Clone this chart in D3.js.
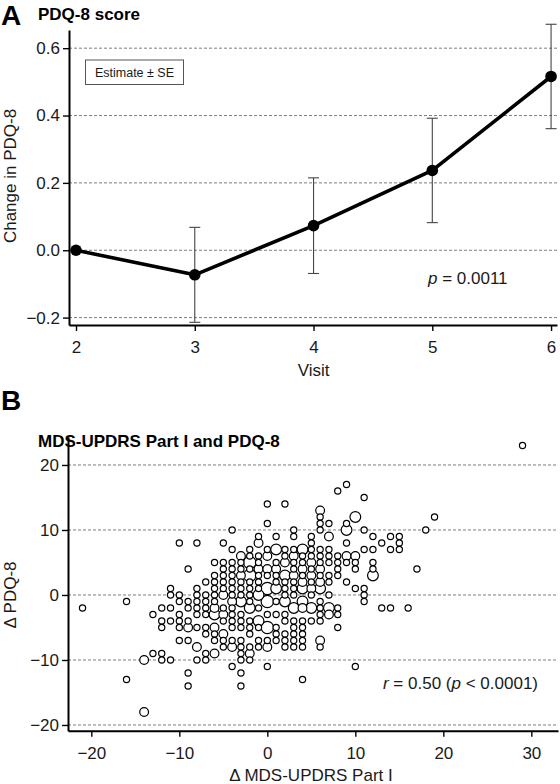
<!DOCTYPE html>
<html><head><meta charset="utf-8">
<script src="https://cdn.jsdelivr.net/npm/d3@7"></script>
<style>
body{margin:0;background:#fff}
svg{display:block}
text{font-family:"Liberation Sans",Arial,Helvetica,sans-serif}
</style>
</head><body>
<svg id="chart" width="560" height="784"></svg>
<script>
// ---------- Panel A data ----------
const visits = [2, 3, 4, 5, 6];
const estimate = [0, -0.073, 0.073, 0.237, 0.516];
const se = [0, 0.141, 0.142, 0.155, 0.155];
const visitTicks = [2, 3, 4, 5, 6];
const changeTicks = [-0.2, 0, 0.2, 0.4, 0.6];

// ---------- Panel B data: [Δ MDS-UPDRS Part I, Δ PDQ-8, count] ----------
const updrsTicks = [-20, -10, 0, 10, 20, 30];
const pdqTicks = [-20, -10, 0, 10, 20];
const bubbles = [
[-21,-2,1],
[-16,-1,1],[-16,-13,1],
[-14,-10,2],[-14,-18,2],
[-13,-3,1],[-13,-9,1],
[-12,-2,1],[-12,-4,1],[-12,-5,1],[-12,-9,1],[-12,-10,1],
[-11,1,1],[-11,0,1],[-11,-2,1],[-11,-4,1],[-11,-10,1],
[-10,8,1],[-10,0,1],[-10,-1,1],[-10,-3,1],[-10,-4,1],[-10,-5,1],[-10,-7,1],
[-9,4,1],[-9,-1,1],[-9,-2,1],[-9,-4,1],[-9,-5,2],[-9,-7,1],[-9,-12,1],[-9,-14,1],
[-8,8,1],[-8,1,1],[-8,0,1],[-8,-1,1],[-8,-2,1],[-8,-3,1],[-8,-5,1],[-8,-8,2],[-8,-10,1],
[-7,2,1],[-7,0,1],[-7,-1,1],[-7,-2,1],[-7,-3,1],[-7,-5,1],[-7,-6,1],[-7,-9,1],[-7,-10,1],
[-6,5,1],[-6,3,1],[-6,2,1],[-6,1,1],[-6,0,1],[-6,-1,1],[-6,-2,2],[-6,-3,3],[-6,-5,2],[-6,-6,1],[-6,-7,1],[-6,-9,2],
[-5,8,1],[-5,5,1],[-5,4,1],[-5,3,1],[-5,2,1],[-5,1,1],[-5,0,2],[-5,-2,1],[-5,-3,2],[-5,-4,1],[-5,-6,2],[-5,-7,1],[-5,-8,1],
[-4,10,1],[-4,7,1],[-4,5,1],[-4,4,1],[-4,3,1],[-4,2,1],[-4,1,1],[-4,0,1],[-4,-1,2],[-4,-2,1],[-4,-3,1],[-4,-4,1],[-4,-5,1],[-4,-7,1],[-4,-8,2],[-4,-11,1],
[-3,6,2],[-3,5,1],[-3,4,1],[-3,3,2],[-3,2,1],[-3,1,1],[-3,0,1],[-3,-1,3],[-3,-3,1],[-3,-4,1],[-3,-5,1],[-3,-7,1],[-3,-8,1],[-3,-9,1],[-3,-10,1],[-3,-12,1],[-3,-14,1],
[-2,7,1],[-2,6,1],[-2,5,4],[-2,4,1],[-2,3,4],[-2,2,1],[-2,1,1],[-2,0,1],[-2,-1,1],[-2,-2,3],[-2,-4,1],[-2,-5,1],[-2,-6,1],[-2,-8,1],[-2,-9,2],[-2,-10,1],
[-1,9,1],[-1,8,2],[-1,6,1],[-1,5,1],[-1,4,2],[-1,3,1],[-1,2,1],[-1,1,1],[-1,0,3],[-1,-2,1],[-1,-4,3],[-1,-5,1],[-1,-7,1],[-1,-8,1],
[0,14,1],[0,11,1],[0,7,1],[0,6,2],[0,4,2],[0,3,1],[0,1,4],[0,-1,4],[0,-3,1],[0,-5,4],[0,-7,1],[0,-8,2],[0,-11,1],
[1,9,1],[1,7,3],[1,5,1],[1,4,2],[1,3,1],[1,2,1],[1,1,3],[1,-1,1],[1,-3,1],[1,-5,1],[1,-6,1],[1,-7,1],
[2,14,1],[2,7,1],[2,6,1],[2,5,2],[2,3,3],[2,2,1],[2,1,1],[2,0,1],[2,-1,3],[2,-3,1],[2,-4,1],[2,-6,1],[2,-7,1],[2,-8,1],
[3,10,1],[3,9,1],[3,7,1],[3,6,2],[3,5,1],[3,4,1],[3,3,2],[3,2,1],[3,1,1],[3,0,1],[3,-2,3],[3,-4,1],[3,-5,1],[3,-6,1],[3,-7,1],[3,-8,1],
[4,7,3],[4,6,1],[4,5,1],[4,4,2],[4,3,1],[4,2,2],[4,1,3],[4,-1,3],[4,-2,2],[4,-4,1],[4,-5,1],[4,-6,1],[4,-7,1],[4,-8,1],[4,-13,1],
[5,9,1],[5,8,1],[5,7,1],[5,6,1],[5,5,2],[5,4,1],[5,3,2],[5,2,1],[5,1,2],[5,0,1],[5,-2,3],[5,-4,1],
[6,13,2],[6,12,1],[6,11,1],[6,10,1],[6,7,1],[6,6,1],[6,5,1],[6,4,2],[6,3,1],[6,2,2],[6,1,3],[6,-1,1],[6,-2,1],[6,-3,1],[6,-4,1],[6,-7,2],[6,-8,1],
[7,11,1],[7,9,2],[7,7,1],[7,6,1],[7,5,1],[7,3,1],[7,2,1],[7,0,1],[7,-2,3],[7,-3,2],
[8,16,1],[8,6,1],[8,5,1],[8,4,1],[8,3,1],[8,-2,1],[8,-3,1],[8,-5,1],
[9,17,1],[9,11,1],[9,10,3],[9,8,1],[9,6,2],[9,5,1],[9,2,1],
[10,12,3],[10,6,2],[10,5,1],[10,4,1],[10,1,1],[10,-11,1],
[11,15,1],[11,10,1],[11,7,1],[11,1,1],[11,0,1],[11,-1,1],
[12,9,1],[12,7,1],[12,5,1],[12,4,1],[12,3,3],
[13,8,1],[13,-2,1],
[14,9,1],[14,7,1],[14,-2,1],
[15,9,1],[15,8,1],[15,7,1],
[16,-2,1],
[17,4,1],
[18,10,1],
[19,12,1],
[29,23,1]
];

const svg = d3.select("#chart");
const FS = 17;
const gridColor = "#6e6e6e";

function styleAxis(g){
  g.select(".domain").attr("stroke","#000").attr("stroke-width",2);
  g.selectAll(".tick line").attr("stroke","#000").attr("stroke-width",1.4);
  g.selectAll(".tick text").attr("font-size",FS).attr("fill","#1a1a1a")
    .attr("font-family",'"Liberation Sans",Arial,sans-serif');
}

// ================= Panel A =================
const xA = d3.scaleLinear().domain([1.941, 6.05]).range([69, 557]);
const yA = d3.scaleLinear().domain([-0.222, 0.654]).range([325, 30]);

svg.append("text").attr("x",1).attr("y",25).attr("font-size",28).attr("font-weight","bold").text("A");
svg.append("text").attr("x",38).attr("y",20).attr("font-size",FS).attr("font-weight","bold").text("PDQ-8 score");

svg.append("g").selectAll("line").data(changeTicks).join("line")
  .attr("x1",69).attr("x2",557)
  .attr("y1",d=>yA(d)).attr("y2",d=>yA(d))
  .attr("stroke",gridColor).attr("stroke-width",0.9).attr("stroke-dasharray","3,2");

const axA_y = svg.append("g").attr("transform","translate(69,0)")
  .call(d3.axisLeft(yA).tickValues(changeTicks).tickFormat(d3.format(".1f")).tickSize(6).tickSizeOuter(0).tickPadding(3));
styleAxis(axA_y);
const axA_x = svg.append("g").attr("transform","translate(0,325)")
  .call(d3.axisBottom(xA).tickValues(visitTicks).tickFormat(d3.format("d")).tickSize(6).tickSizeOuter(0).tickPadding(10));
styleAxis(axA_x);

svg.append("text").attr("transform","translate(16,176) rotate(-90)")
  .attr("text-anchor","middle").attr("font-size",FS).attr("fill","#1a1a1a").text("Change in PDQ-8");
svg.append("text").attr("x",xA(4)).attr("y",376).attr("text-anchor","middle")
  .attr("font-size",FS).attr("fill","#1a1a1a").text("Visit");

// legend box
svg.append("rect").attr("x",85.5).attr("y",60).attr("width",98).attr("height",24.5)
  .attr("fill","#fff").attr("stroke","#555").attr("stroke-width",1);
svg.append("text").attr("x",134.5).attr("y",76.5).attr("text-anchor","middle")
  .attr("font-size",12.5).attr("fill","#1a1a1a").text("Estimate ± SE");

// error bars
const ptsA = visits.map((v,i)=>({v, e:estimate[i], s:se[i]}));
const eb = svg.append("g").attr("stroke","#444").attr("stroke-width",1.1);
ptsA.filter(d=>d.s>0).forEach(d=>{
  const x = xA(d.v);
  eb.append("line").attr("x1",x).attr("x2",x).attr("y1",yA(d.e-d.s)).attr("y2",yA(d.e+d.s));
  eb.append("line").attr("x1",x-5.5).attr("x2",x+5.5).attr("y1",yA(d.e-d.s)).attr("y2",yA(d.e-d.s));
  eb.append("line").attr("x1",x-5.5).attr("x2",x+5.5).attr("y1",yA(d.e+d.s)).attr("y2",yA(d.e+d.s));
});

svg.append("path").datum(ptsA)
  .attr("d", d3.line().x(d=>xA(d.v)).y(d=>yA(d.e)))
  .attr("fill","none").attr("stroke","#000").attr("stroke-width",3.6).attr("stroke-linejoin","round");
svg.append("g").selectAll("circle").data(ptsA).join("circle")
  .attr("cx",d=>xA(d.v)).attr("cy",d=>yA(d.e)).attr("r",5.8).attr("fill","#000");

const pA = svg.append("text").attr("x",428).attr("y",284).attr("font-size",FS).attr("fill","#1a1a1a");
pA.append("tspan").attr("font-style","italic").text("p");
pA.append("tspan").text(" = 0.0011");

// ================= Panel B =================
const xB = d3.scaleLinear().domain([-22.65, 33.03]).range([68, 558]);
const yB = d3.scaleLinear().domain([-20.88, 24.35]).range([730.7, 436.7]);
const rB = d3.scaleSqrt().domain([0, 1]).range([0, 3.1]);

svg.append("text").attr("x",1).attr("y",410).attr("font-size",28).attr("font-weight","bold").text("B");
svg.append("text").attr("x",38).attr("y",447).attr("font-size",FS).attr("font-weight","bold").text("MDS-UPDRS Part I and PDQ-8");

svg.append("g").selectAll("line").data(pdqTicks).join("line")
  .attr("x1",68).attr("x2",558)
  .attr("y1",d=>yB(d)).attr("y2",d=>yB(d))
  .attr("stroke",gridColor).attr("stroke-width",0.9).attr("stroke-dasharray","3,2");

const sorted = bubbles.map(d=>({x:d[0],y:d[1],n:d[2]})).sort((a,b)=>b.n-a.n);
svg.append("g").selectAll("circle").data(sorted).join("circle")
  .attr("cx",d=>xB(d.x)).attr("cy",d=>yB(d.y)).attr("r",d=>rB(d.n))
  .attr("fill","#fff").attr("stroke","#000").attr("stroke-width",1.2);

const axB_y = svg.append("g").attr("transform","translate(68,0)")
  .call(d3.axisLeft(yB).tickValues(pdqTicks).tickFormat(d3.format("d")).tickSize(6).tickSizeOuter(0).tickPadding(3));
styleAxis(axB_y);
const axB_x = svg.append("g").attr("transform","translate(0,730.7)")
  .call(d3.axisBottom(xB).tickValues(updrsTicks).tickFormat(d3.format("d")).tickSize(6).tickSizeOuter(0).tickPadding(10));
styleAxis(axB_x);

svg.append("text").attr("transform","translate(16,595) rotate(-90)")
  .attr("text-anchor","middle").attr("font-size",FS).attr("fill","#1a1a1a").text("Δ PDQ-8");
svg.append("text").attr("x",311).attr("y",781).attr("text-anchor","middle")
  .attr("font-size",FS).attr("fill","#1a1a1a").text("Δ MDS-UPDRS Part I");

const rT = svg.append("text").attr("x",538).attr("y",689).attr("text-anchor","end").attr("font-size",FS).attr("fill","#1a1a1a");
rT.append("tspan").attr("font-style","italic").text("r");
rT.append("tspan").text(" = 0.50 (");
rT.append("tspan").attr("font-style","italic").text("p");
rT.append("tspan").text(" < 0.0001)");
</script>
</body></html>
